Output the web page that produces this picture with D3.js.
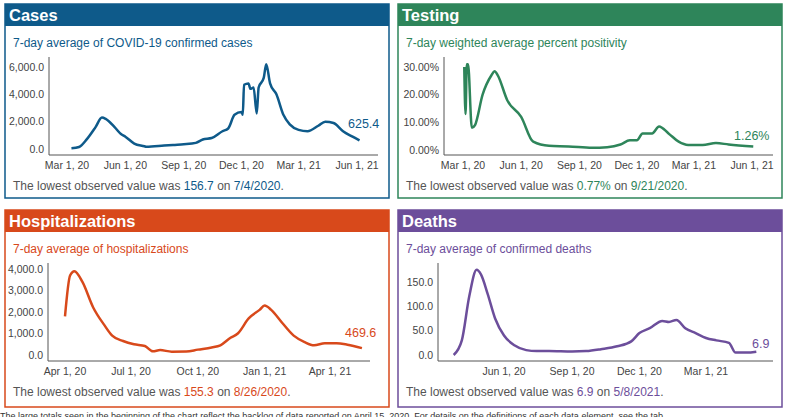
<!DOCTYPE html>
<html>
<head>
<meta charset="utf-8">
<script src="https://cdn.jsdelivr.net/npm/d3@7"></script>
<style>
  body { margin: 0; background: #fff; font-family: "Liberation Sans", Arial, sans-serif; }
  svg { display: block; }
</style>
</head>
<body>
<svg id="chart" width="787" height="417"></svg>
<script>
const parse = d3.timeParse("%Y-%m-%d");

// 7-day average of confirmed cases
const casesDates = ["2020-03-08","2020-03-20","2020-04-01","2020-04-15","2020-04-25","2020-05-01","2020-05-15","2020-05-25","2020-06-01","2020-06-15","2020-07-01","2020-07-04","2020-08-01","2020-08-15","2020-09-01","2020-09-20","2020-10-01","2020-10-15","2020-11-01","2020-11-10","2020-11-20","2020-12-01","2020-12-03","2020-12-05","2020-12-12","2020-12-15","2020-12-20","2020-12-25","2020-12-28","2021-01-05","2021-01-09","2021-01-15","2021-01-25","2021-02-05","2021-02-15","2021-03-01","2021-03-15","2021-04-01","2021-04-12","2021-04-25","2021-05-10","2021-05-25","2021-06-05"];
const casesValues = [50,150,700,1600,2300,2200,1600,1100,900,400,200,157,250,300,350,450,700,800,1300,1500,2500,2700,2500,4700,4800,4400,4500,2600,4500,5200,6200,4800,4000,2500,1800,1400,1300,1700,2000,1900,1300,900,625.4];

// 7-day weighted average percent positivity
const testDates = ["2020-03-03","2020-03-05","2020-03-07","2020-03-09","2020-03-15","2020-03-20","2020-04-01","2020-04-15","2020-04-20","2020-04-25","2020-05-10","2020-06-01","2020-06-20","2020-07-15","2020-08-15","2020-09-21","2020-10-15","2020-11-05","2020-11-20","2020-12-01","2020-12-10","2020-12-25","2021-01-05","2021-01-20","2021-02-05","2021-02-20","2021-03-15","2021-04-05","2021-04-25","2021-06-03"];
const testValues = [30,13,31,31,8,9,20,27,28.5,27,18,12,3,1.5,1.3,0.77,1,2,3.5,3.5,6,6,8.5,6,3,1.8,1.8,2.5,2,1.26];

// 7-day average of hospitalizations
const hospDates = ["2020-04-01","2020-04-08","2020-04-14","2020-04-25","2020-05-10","2020-05-25","2020-06-05","2020-06-20","2020-07-05","2020-07-20","2020-07-31","2020-08-10","2020-08-26","2020-09-15","2020-10-01","2020-10-20","2020-11-01","2020-11-15","2020-11-25","2020-12-10","2020-12-25","2021-01-01","2021-01-10","2021-01-25","2021-02-10","2021-02-25","2021-03-10","2021-03-25","2021-04-10","2021-04-25","2021-05-15"];
const hospValues = [1800,3700,3900,3400,2200,1400,900,650,500,420,170,230,155.3,160,250,350,450,800,1000,1700,2100,2300,2100,1500,900,600,450,550,550,480,320];

// 7-day average of confirmed deaths
const deathDates = ["2020-03-25","2020-04-05","2020-04-15","2020-04-25","2020-05-01","2020-05-10","2020-05-20","2020-06-01","2020-06-15","2020-07-01","2020-07-15","2020-08-01","2020-09-01","2020-09-20","2020-10-10","2020-11-01","2020-11-20","2020-12-01","2020-12-15","2021-01-01","2021-01-10","2021-01-20","2021-02-01","2021-02-15","2021-03-01","2021-03-15","2021-04-01","2021-04-10","2021-04-25","2021-05-08"];
const deathValues = [0,30,120,175,165,125,75,40,20,10,8,8,7,8,12,18,28,45,55,70,68,72,55,45,35,30,25,5,5,6.9];

const panels = [
  { title: "Cases", sub: "7-day average of COVID-19 confirmed cases", color: "#0e5a8a",
    dates: casesDates, values: casesValues, x0: 5, y0: 4, fmt: d3.format(",.1f"), last: "625.4",
    lowVal: "156.7", lowDate: "7/4/2020",
    xDom: ["2020-03-01","2021-06-01"], xRange: [67, 357], yDom: [0, 6000], yRange: [149, 67],
    ticks: ["2020-03-01","2020-06-01","2020-09-01","2020-12-01","2021-03-01","2021-06-01"], yTicks: [0,2000,4000,6000],
    axisX: 49, axisTop: 57, axisBottom: 155, axisRight: 378, lab: [348, 128] },
  { title: "Testing", sub: "7-day weighted average percent positivity", color: "#2e855a",
    dates: testDates, values: testValues, x0: 398, y0: 4, fmt: d => d3.format(".2f")(d) + "%", last: "1.26%",
    lowVal: "0.77%", lowDate: "9/21/2020",
    xDom: ["2020-03-01","2021-06-01"], xRange: [463, 752], yDom: [0, 30], yRange: [150, 67],
    ticks: ["2020-03-01","2020-06-01","2020-09-01","2020-12-01","2021-03-01","2021-06-01"], yTicks: [0,10,20,30],
    axisX: 444, axisTop: 57, axisBottom: 155, axisRight: 773, lab: [734, 140] },
  { title: "Hospitalizations", sub: "7-day average of hospitalizations", color: "#d8491b",
    dates: hospDates, values: hospValues, x0: 5, y0: 210, fmt: d3.format(",.1f"), last: "469.6",
    lowVal: "155.3", lowDate: "8/26/2020",
    xDom: ["2020-04-01","2021-04-01"], xRange: [65, 330], yDom: [0, 4000], yRange: [355, 269],
    ticks: ["2020-04-01","2020-07-01","2020-10-01","2021-01-01","2021-04-01"], yTicks: [0,1000,2000,3000,4000],
    axisX: 48, axisTop: 263, axisBottom: 361, axisRight: 370, lab: [345, 337] },
  { title: "Deaths", sub: "7-day average of confirmed deaths", color: "#6c4e9b",
    dates: deathDates, values: deathValues, x0: 398, y0: 210, fmt: d3.format(",.1f"), last: "6.9",
    lowVal: "6.9", lowDate: "5/8/2021",
    xDom: ["2020-06-01","2021-03-01"], xRange: [504, 706], yDom: [0, 150], yRange: [355, 282],
    ticks: ["2020-06-01","2020-09-01","2020-12-01","2021-03-01"], yTicks: [0,50,100,150],
    axisX: 438, axisTop: 263, axisBottom: 361, axisRight: 773, lab: [752, 348] }
];

const svg = d3.select("#chart");
const tickFmt = d3.timeFormat("%b %-d, %y");

panels.forEach(p => {
  const g = svg.append("g");
  const boxH = p.y0 === 4 ? 194 : 197;

  g.append("rect").attr("x", p.x0).attr("y", p.y0).attr("width", 384).attr("height", boxH)
    .attr("fill", "#fff").attr("stroke", p.color).attr("stroke-width", 1.5);
  g.append("rect").attr("x", p.x0).attr("y", p.y0).attr("width", 384).attr("height", 22)
    .attr("fill", p.color);
  g.append("text").attr("x", p.x0 + 4).attr("y", p.y0 + 17).attr("fill", "#fff")
    .attr("font-size", 16.5).attr("font-weight", "bold").text(p.title);
  g.append("text").attr("x", p.x0 + 8).attr("y", p.y0 + 43).attr("fill", p.color)
    .attr("font-size", 12).text(p.sub);

  const x = d3.scaleTime().domain(p.xDom.map(parse)).range(p.xRange);
  const y = d3.scaleLinear().domain(p.yDom).range(p.yRange);

  // axes
  g.append("line").attr("x1", p.axisX).attr("x2", p.axisX).attr("y1", p.axisTop).attr("y2", p.axisBottom)
    .attr("stroke", "#555");
  g.append("line").attr("x1", p.axisX).attr("x2", p.axisRight).attr("y1", p.axisBottom).attr("y2", p.axisBottom)
    .attr("stroke", "#555");

  g.selectAll(".yt").data(p.yTicks).join("text")
    .attr("x", p.axisX - 5).attr("y", d => y(d)).attr("dy", "0.35em")
    .attr("text-anchor", "end").attr("font-size", 10.5).attr("fill", "#444")
    .text(d => p.fmt(d));

  g.selectAll(".xt").data(p.ticks.map(parse)).join("text")
    .attr("x", d => x(d)).attr("y", p.axisBottom + 14)
    .attr("text-anchor", "middle").attr("font-size", 10.5).attr("fill", "#444")
    .text(d => tickFmt(d));

  const data = p.dates.map((d, i) => ({ date: parse(d), value: p.values[i] }));
  const line = d3.line().x(d => x(d.date)).y(d => y(d.value)).curve(d3.curveMonotoneX);
  g.append("path").datum(data).attr("d", line).attr("fill", "none")
    .attr("stroke", p.color).attr("stroke-width", 2.5).attr("stroke-linejoin", "round");

  g.append("text").attr("x", p.lab[0]).attr("y", p.lab[1]).attr("fill", p.color)
    .attr("font-size", 12.5).text(p.last);

  const low = g.append("text").attr("x", p.x0 + 8).attr("y", p.y0 + 186)
    .attr("font-size", 12).attr("fill", "#555");
  low.append("tspan").text("The lowest observed value was ");
  low.append("tspan").attr("fill", p.color).text(p.lowVal);
  low.append("tspan").text(" on ");
  low.append("tspan").attr("fill", p.color).text(p.lowDate);
  low.append("tspan").text(".");
});

svg.append("text").attr("x", 0).attr("y", 419).attr("font-size", 9).attr("fill", "#333")
  .text("The large totals seen in the beginning of the chart reflect the backlog of data reported on April 15, 2020. For details on the definitions of each data element, see the tab.");
</script>
</body>
</html>
